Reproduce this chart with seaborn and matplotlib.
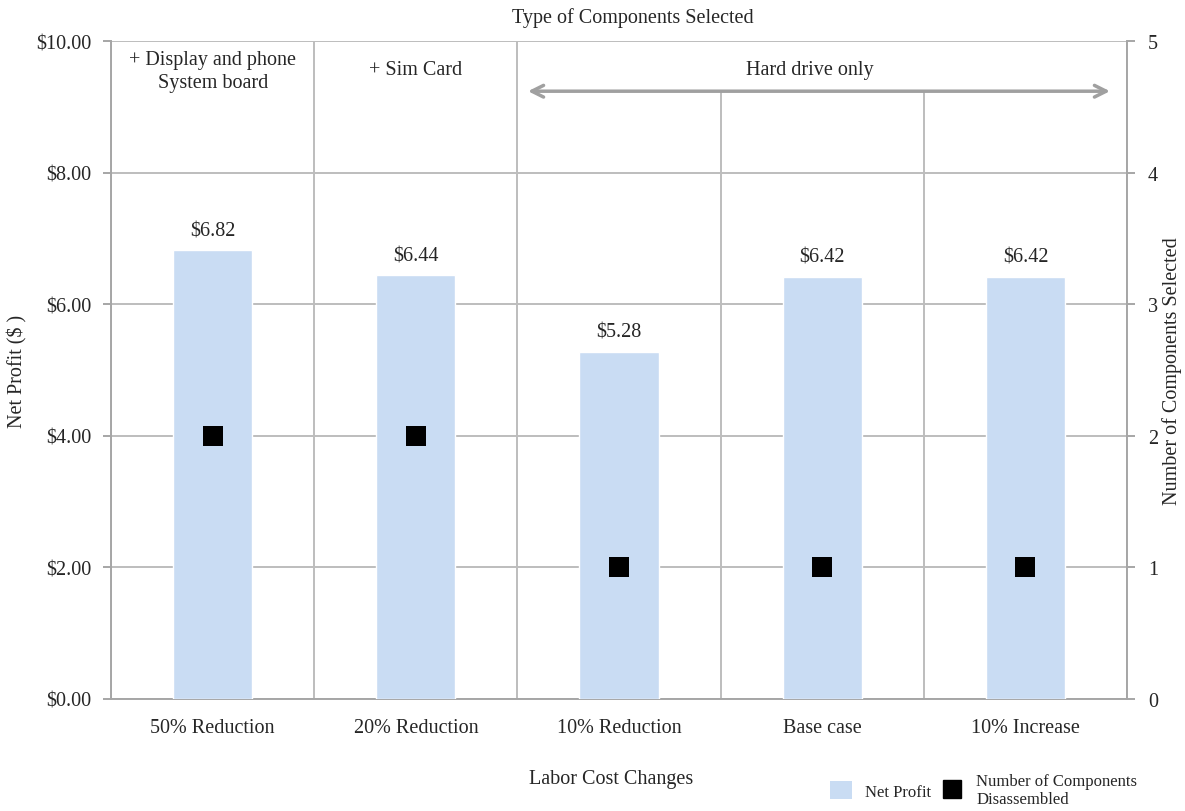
import matplotlib
matplotlib.use("Agg")
import matplotlib.pyplot as plt
from matplotlib.lines import Line2D
from matplotlib.patches import Patch
import seaborn as sns
import pandas as pd

# Labor cost scenarios and results
scenarios = ["50% Reduction", "20% Reduction", "10% Reduction", "Base case", "10% Increase"]
net_profit = [6.82, 6.44, 5.28, 6.42, 6.42]
components = [2, 2, 1, 1, 1]
profit_labels = ["$6.82", "$6.44", "$5.28", "$6.42", "$6.42"]
left_ticks = [0, 2, 4, 6, 8, 10]
left_ticklabels = ["$0.00", "$2.00", "$4.00", "$6.00", "$8.00", "$10.00"]
right_ticks = [0, 1, 2, 3, 4, 5]

sns.set_theme(style="white")
plt.rcParams["font.family"] = ["Liberation Serif", "DejaVu Serif"]

FS = 14.5
BAR = "#C9DCF3"
GRID = "#BDBDBD"
SPINE = "#A6A6A6"

df = pd.DataFrame({"scenario": scenarios, "profit": net_profit, "count": components})

fig = plt.figure(figsize=(11.85, 8.12), dpi=100)
ax = fig.add_axes([0.0937, 0.138, 0.8574, 0.810])

sns.barplot(data=df, x="scenario", y="profit", color=BAR, width=0.39,
            saturation=1, ax=ax, zorder=3)
ax.set_xlim(-0.5, 4.5)
ax.set_ylim(0, 10)

# horizontal gridlines
for y in left_ticks:
    ax.axhline(y, color=GRID, lw=1.4, zorder=1)
# vertical separators between scenarios
for x in [-0.5, 0.5, 1.5, 4.5]:
    ax.vlines(x, 0, 10, color=GRID, lw=1.4, zorder=1)
for x in [2.5, 3.5]:
    ax.vlines(x, 0, 9.24, color=GRID, lw=1.4, zorder=1)

# value labels
for i, (v, lab) in enumerate(zip(net_profit, profit_labels)):
    ax.text(i, v + 0.15, lab, ha="center", va="bottom", fontsize=FS, zorder=5)

# component groups
ax.text(0, 9.55, "+ Display and phone\nSystem board", ha="center", va="center",
        fontsize=FS, linespacing=1.3)
ax.text(1, 9.57, "+ Sim Card", ha="center", va="center", fontsize=FS)
ax.text(2.94, 9.57, "Hard drive only", ha="center", va="center", fontsize=FS)
ax.annotate("", xy=(4.416, 9.24), xytext=(1.552, 9.24),
            arrowprops=dict(arrowstyle="<->,head_length=0.7,head_width=0.35",
                            color="#A0A0A0", lw=2.5, shrinkA=0, shrinkB=0))

ax.set_yticks(left_ticks)
ax.set_yticklabels(left_ticklabels, fontsize=FS)
ax.set_xticks(range(len(scenarios)))
ax.set_xticklabels(scenarios, fontsize=FS)
ax.set_xticks([-0.5, 0.5, 1.5, 2.5, 3.5, 4.5], minor=True)
ax.tick_params(axis="x", which="major", length=0, pad=14)
ax.tick_params(axis="x", which="minor", length=6, color=SPINE, width=1.4, direction="out")
ax.tick_params(axis="y", length=6, color=SPINE, width=1.4, direction="out", pad=8)
ax.set_xlabel("")
ax.set_ylabel("Net Profit ($ )", fontsize=FS)
ax.yaxis.set_label_coords(-0.0827, 0.5)

for side in ["left", "right", "bottom"]:
    ax.spines[side].set_color(SPINE)
    ax.spines[side].set_linewidth(1.4)
ax.spines["top"].set_visible(False)

# secondary axis: number of components
ax2 = ax.twinx()
sns.scatterplot(data=df, x="scenario", y="count", marker="s", s=190, color="black",
                edgecolor="black", linewidth=0, ax=ax2, zorder=6, legend=False)
ax2.set_ylim(0, 5)
ax2.set_yticks(right_ticks)
ax2.set_yticklabels([str(t) for t in right_ticks], fontsize=FS)
ax2.tick_params(axis="y", length=6, color=SPINE, width=1.4, direction="out", pad=9)
ax2.set_ylabel("Number of Components Selected", fontsize=FS)
ax2.yaxis.set_label_coords(1.0345, 0.5)
ax2.set_xlabel("")
for side in ["left", "right", "bottom", "top"]:
    ax2.spines[side].set_visible(False)
ax2.grid(False)

fig.text(0.534, 0.978, "Type of Components Selected", ha="center", va="center", fontsize=FS)
fig.text(0.516, 0.040, "Labor Cost Changes", ha="center", va="center", fontsize=FS)

handles = [Patch(facecolor=BAR, edgecolor="none"),
           Line2D([], [], marker="s", color="black", linestyle="none", markersize=13)]
fig.legend(handles, ["Net Profit", "Number of Components\nDisassembled"],
           loc="center left", bbox_to_anchor=(0.688, 0.026), ncol=2, frameon=False,
           fontsize=12, handlelength=1.3, handleheight=1.3, columnspacing=0.6,
           handletextpad=0.8)

fig.savefig("out.png", dpi=100)
